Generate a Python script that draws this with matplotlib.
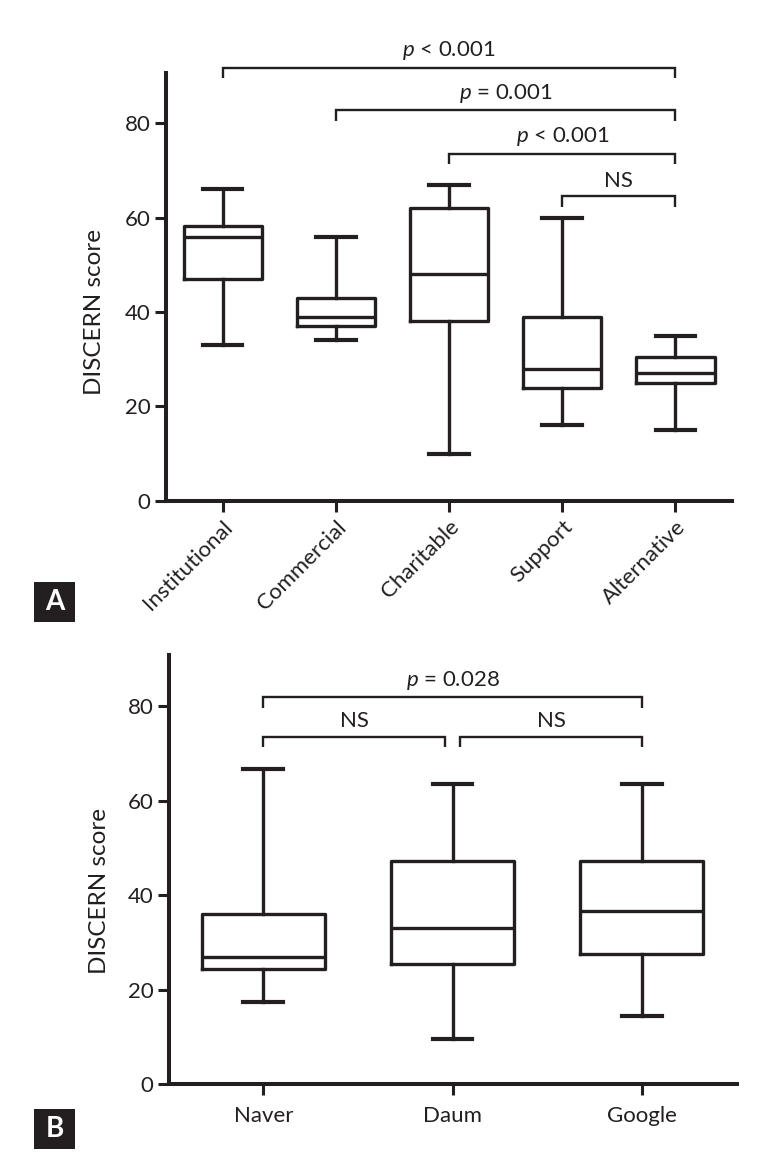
import matplotlib
matplotlib.use('Agg')
import matplotlib.pyplot as plt
from matplotlib.patches import Rectangle

plt.rcParams['font.family'] = ['Lato', 'DejaVu Sans']
plt.rcParams['mathtext.fontset'] = 'custom'
plt.rcParams['mathtext.it'] = 'Lato:italic'
plt.rcParams['mathtext.rm'] = 'Lato'

ink = '#231f20'

# Panel A - website type
sites = ['Institutional', 'Commercial', 'Charitable', 'Support', 'Alternative']
a_low = [33, 34, 10, 16, 15]
a_q1 = [47, 37, 38.2, 24, 25]
a_med = [56, 39, 48, 28, 27]
a_q3 = [58.2, 43, 62, 39, 30.4]
a_high = [66, 56, 67, 60, 35]
a_pairs = [(1, 5), (2, 5), (3, 5), (4, 5)]
a_texts = ['$p$ < 0.001', '$p$ = 0.001', '$p$ < 0.001', 'NS']
a_levels = [91.8, 82.7, 73.5, 64.5]

# Panel B - search engine
engines = ['Naver', 'Daum', 'Google']
b_low = [17.4, 9.5, 14.5]
b_q1 = [24.4, 25.4, 27.6]
b_med = [27, 33, 36.7]
b_q3 = [36.1, 47.2, 47.2]
b_high = [66.7, 63.6, 63.6]
b_pairs = [(1, 3), (1, 1.96), (2.04, 3)]
b_texts = ['$p$ = 0.028', 'NS', 'NS']
b_levels = [81.9, 73.6, 73.6]


def make_stats(names, lo, q1, med, q3, hi):
    out = []
    for i in range(len(names)):
        out.append(dict(label=names[i], whislo=lo[i], q1=q1[i], med=med[i],
                        q3=q3[i], whishi=hi[i], fliers=[]))
    return out


def bracket(ax, x1, x2, y, txt, drop=2.2):
    ax.plot([x1, x1, x2, x2], [y - drop, y, y, y - drop], color=ink, lw=1.7,
            clip_on=False, solid_capstyle='butt', solid_joinstyle='miter')
    ax.annotate(txt, xy=((x1 + x2) / 2, y), xytext=(0, 4), textcoords='offset points',
                ha='center', va='bottom', fontsize=16, color=ink, annotation_clip=False)


def style_axes(ax, top):
    for s in ['top', 'right']:
        ax.spines[s].set_visible(False)
    for s in ['left', 'bottom']:
        ax.spines[s].set_linewidth(2.9)
        ax.spines[s].set_color(ink)
    ax.set_ylim(0, top)
    ax.set_yticks([0, 20, 40, 60, 80])
    ax.tick_params(axis='both', length=8, width=2.2, color=ink, labelcolor=ink,
                   labelsize=16)
    ax.tick_params(axis='y', pad=3)
    ax.set_ylabel('DISCERN score', fontsize=17.5, color=ink)


fig = plt.figure(figsize=(7.65, 11.67), dpi=100)

axA = fig.add_axes([0.217, 0.5708, 0.740, 0.3669])
axA.bxp(make_stats(sites, a_low, a_q1, a_med, a_q3, a_high), positions=range(1, 6),
        widths=0.69, capwidths=0.35, showfliers=False,
        boxprops=dict(color=ink, lw=2.4), whiskerprops=dict(color=ink, lw=2.4),
        capprops=dict(color=ink, lw=3), medianprops=dict(color=ink, lw=2.4))
axA.set_xlim(0.5, 5.5)
style_axes(axA, 90.7)
axA.set_xticks(range(1, 6))
axA.set_xticklabels(sites, rotation=45, ha='right', va='top', rotation_mode='anchor')
axA.yaxis.set_label_coords(-0.108, 0.44)
for (x1, x2), t, y in zip(a_pairs, a_texts, a_levels):
    bracket(axA, x1, x2, y, t)

axB = fig.add_axes([0.2204, 0.0709, 0.7425, 0.3679])
axB.bxp(make_stats(engines, b_low, b_q1, b_med, b_q3, b_high), positions=range(1, 4),
        widths=0.65, capwidths=0.21, showfliers=False,
        boxprops=dict(color=ink, lw=2.4), whiskerprops=dict(color=ink, lw=2.4),
        capprops=dict(color=ink, lw=3), medianprops=dict(color=ink, lw=2.4))
axB.set_xlim(0.5, 3.5)
style_axes(axB, 90.9)
axB.set_xticks(range(1, 4))
axB.set_xticklabels(engines)
axB.tick_params(axis='x', pad=8)
axB.yaxis.set_label_coords(-0.104, 0.45)
for (x1, x2), t, y in zip(b_pairs, b_texts, b_levels):
    bracket(axB, x1, x2, y, t)

# panel letters
W, H = 765, 1167
for letter, top in [('A', 582), ('B', 1109)]:
    fig.patches.append(Rectangle((34 / W, 1 - (top + 40) / H), 41 / W, 40 / H,
                                 transform=fig.transFigure, facecolor=ink,
                                 edgecolor='none'))
    fig.text(54.5 / W, 1 - (top + 20) / H, letter, color='white', fontsize=20,
             fontweight='bold', ha='center', va='center')

fig.savefig('out.png', dpi=100)
